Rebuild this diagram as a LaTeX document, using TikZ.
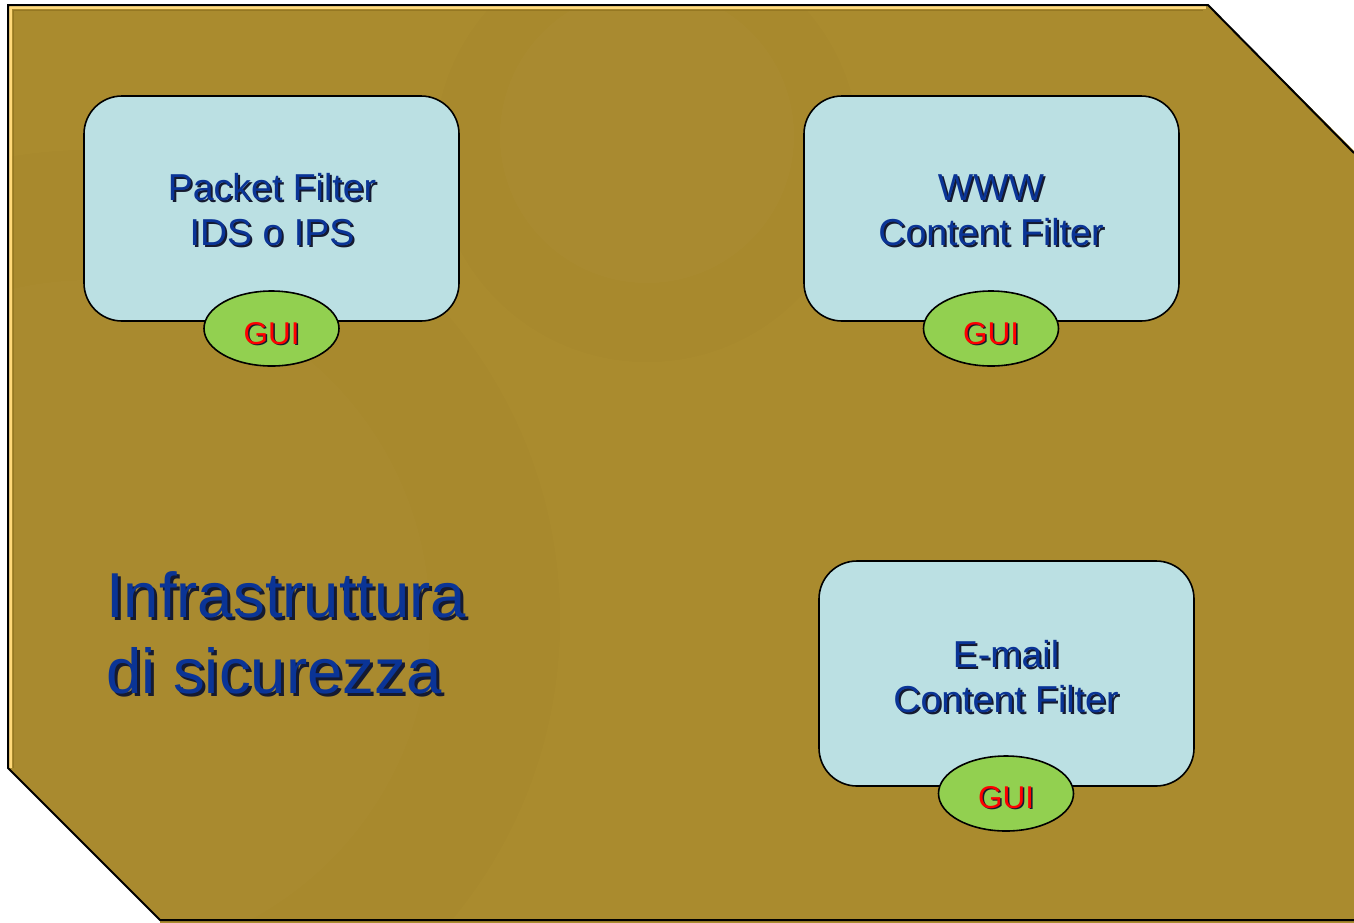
\documentclass[tikz,border=0pt]{standalone}
\usepackage{fontspec}
\setmainfont{Liberation Sans}
\usetikzlibrary{shapes.geometric}
\definecolor{bgfill}{HTML}{AA8B2E}
\definecolor{hilite}{HTML}{FFD97A}
\definecolor{lowlite}{HTML}{957722}
\definecolor{boxfill}{HTML}{BBE0E3}
\definecolor{guifill}{HTML}{92D050}
\definecolor{txtblue}{HTML}{0A3496}
\definecolor{shadowc}{HTML}{151A30}
\newcommand{\shtxt}[2]{\makebox[0pt][l]{\hspace*{#1}\raisebox{-#1}{\textcolor{shadowc}{#2}}}#2}
\tikzset{
  x=1pt, y=-1pt,
  comp/.style={draw=black, line width=1.6pt, fill=boxfill, rounded corners=38pt},
  gui/.style={ellipse, draw=black, line width=1.6pt, fill=guifill, minimum width=135pt, minimum height=75pt, inner sep=0pt},
  lbl/.style={anchor=base, inner sep=0pt, font=\fontsize{37.5}{45}\selectfont, text=txtblue},
  guil/.style={anchor=base, inner sep=0pt, font=\fontsize{31.5}{36}\selectfont, text=red},
  big/.style={anchor=base west, inner sep=0pt, font=\fontsize{63.5}{76}\selectfont, text=txtblue},
}
\begin{document}
\begin{tikzpicture}
\useasboundingbox (0,0) rectangle (1354,922);
% background shape
\path[fill=bgfill] (8,5) -- (1208,5) -- (1370,167) -- (1370,940) -- (160,940) -- (160,920) -- (8,768) -- cycle;
\begin{scope}
  \clip (8,5) -- (1208,5) -- (1370,167) -- (1370,920) -- (160,920) -- (8,768) -- cycle;
  \fill[black, opacity=0.012] (647,150) circle[radius=212];
  \fill[white, opacity=0.015] (647,136) circle[radius=147];
  \fill[black, opacity=0.01] (90,620) circle[radius=470];
  \fill[white, opacity=0.01] (90,620) circle[radius=340];
\end{scope}
\draw[hilite, line width=3pt] (10.5,768) -- (10.5,7.5) -- (1206,7.5);
\draw[lowlite, line width=1pt] (13.5,768) -- (13.5,10.5) -- (1203,10.5);
\draw[black, line width=2pt] (1354,153) -- (1208,5) -- (8,5) -- (8,768) -- (160,920) -- (1354,920);

% components
\draw[comp] (84,96) rectangle (459,321);
\draw[comp] (804,96) rectangle (1179,321);
\draw[comp] (819,561) rectangle (1194,786);

\node[gui] (g1) at (271.5,328.5) {};
\node[gui] (g2) at (991,328.5) {};
\node[gui] (g3) at (1006,793.5) {};

% labels, box 1
\node[lbl] (a1) at (272,200) {\shtxt{2pt}{Packet Filter}};
\node[lbl] (a2) at (272,245) {\shtxt{2pt}{IDS o IPS}};
% box 2
\node[lbl] (b1) at (991,200) {\shtxt{2pt}{WWW}};
\node[lbl] (b2) at (991,245) {\shtxt{2pt}{Content Filter}};
% box 3
\node[lbl] (c1) at (1006,667) {\shtxt{2pt}{E-mail}};
\node[lbl] (c2) at (1006,712) {\shtxt{2pt}{Content Filter}};
% GUI labels
\node[guil] (gl1) at (271.5,344) {\shtxt{1.5pt}{GUI}};
\node[guil] (gl2) at (991,344) {\shtxt{1.5pt}{GUI}};
\node[guil] (gl3) at (1006,808) {\shtxt{1.5pt}{GUI}};

% title
\node[big] (t1) at (106,617) {\shtxt{3pt}{Infrastruttura}};
\node[big] (t2) at (106,693) {\shtxt{3pt}{di sicurezza}};
\end{tikzpicture}
\end{document}
